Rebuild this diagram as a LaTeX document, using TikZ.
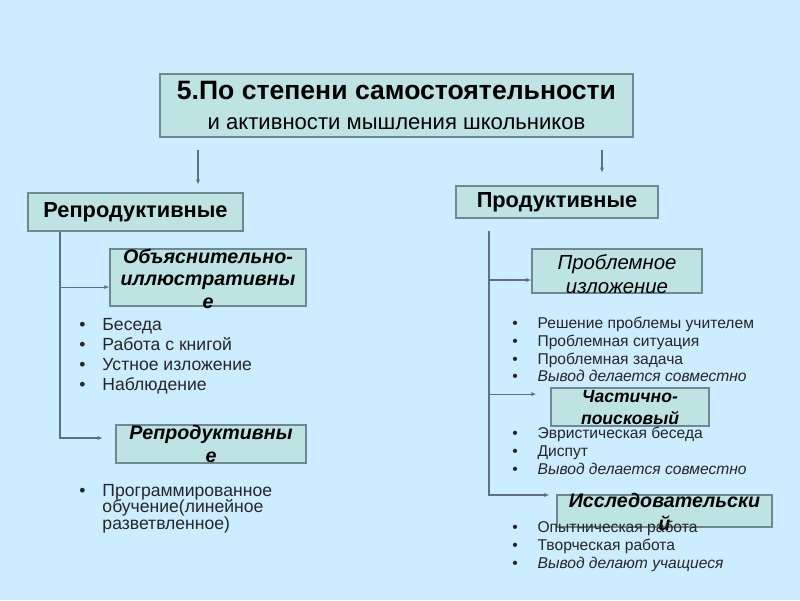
\documentclass[tikz,border=0pt]{standalone}
\usepackage{fontspec}
\setmainfont{Liberation Sans}
\usetikzlibrary{arrows.meta,positioning,calc}
\definecolor{slidebg}{HTML}{CCECFF}
\definecolor{boxfill}{HTML}{BEE3E3}
\definecolor{boxline}{HTML}{6E8890}
\definecolor{wire}{HTML}{5E707C}
\definecolor{itemgray}{HTML}{262626}
\newcommand{\bul}{\makebox[16.5pt][l]{\textbullet}}
\newcommand{\bulr}{\makebox[18pt][l]{\textbullet}}

\begin{document}
\begin{tikzpicture}[x=0.025cm,y=-0.025cm,
  box/.style={draw=boxline,fill=boxfill,line width=1pt,inner sep=0pt},
  head/.style={box,font=\fontsize{15.5}{18}\selectfont\bfseries},
  subtxt/.style={anchor=north,inner sep=0pt,align=center,font=\fontsize{14}{16}\selectfont\bfseries\itshape},
  items/.style={anchor=north west,inner sep=0pt,align=left,text=itemgray,font=\fontsize{12.5}{14.2}\selectfont},
  itemsr/.style={items,font=\fontsize{11.1}{12.6}\selectfont},
  wireln/.style={draw=wire,line width=0.8pt},
  arr/.style={wireln,-{Latex[length=3.5pt,width=3pt]}}]
\fill[slidebg] (0,0) rectangle (800,600);
% title
\node[box,minimum width=11.825cm,minimum height=1.575cm,align=center,font=\fontsize{15}{21}\selectfont] (title) at (396.5,105.5) {{\fontsize{18.9}{21}\selectfont\bfseries 5.По степени самостоятельности}\\{\fontsize{15.7}{18}\selectfont и активности мышления школьников}};
% two groups
\node[head,minimum width=5.375cm,minimum height=0.95cm] (repro) at (135.5,212) {Репродуктивные};
\node[head,minimum width=5.05cm,minimum height=0.8cm] (prod) at (557,202) {Продуктивные};
\coordinate (lcol) at (198,0);
\coordinate (rcol) at (602,0);
\draw[arr,shorten <=8.5pt,shorten >=5.5pt] (title.south -| lcol) -- (repro.north -| lcol);
\draw[arr,shorten <=8.5pt,shorten >=9pt] (title.south -| rcol) -- (prod.north -| rcol);
% reproductive methods
\node[box,minimum width=4.9cm,minimum height=1.425cm] (obj) at (208,277.5) {};
\node[subtxt] (objtxt) at ($(obj.north)+(0,0)$) {Объяснительно-\\иллюстративны\\е};
\node[items] (objlist) at (79,318.5) {\bul Беседа\\\bul Работа с книгой\\\bul Устное изложение\\\bul Наблюдение};
\node[box,minimum width=4.75cm,minimum height=0.95cm] (rep) at (211,444) {};
\node[subtxt] (reptxt) at ($(rep.north)+(0,1)$) {Репродуктивны\\е};
\node[items] (replist) at (79,484) {\bul Программированное\\[-2.4pt]\hspace*{16.5pt}обучение(линейное\\[-2.4pt]\hspace*{16.5pt}разветвленное)};
\coordinate (lspine) at (60,0);
\draw[arr] (repro.south -| lspine) |- ([yshift=-6.8pt]obj.west);
\draw[arr,shorten >=9pt] ([yshift=-6.8pt]obj.west -| lspine) |- ([yshift=4.3pt]rep.west);
% productive methods
\node[box,minimum width=4.25cm,minimum height=1.1cm] (prob) at (617,271) {};
\node[subtxt,font=\fontsize{14.5}{17}\selectfont\itshape] (probtxt) at ($(prob.north)+(0,6)$) {Проблемное\\изложение};
\node[itemsr] (problist) at (512,317) {\bulr Решение проблемы учителем\\\bulr Проблемная ситуация\\\bulr Проблемная задача\\\bulr \textit{Вывод делается совместно}};
\node[box,minimum width=3.95cm,minimum height=0.95cm] (part) at (630,407) {};
\node[subtxt,font=\fontsize{12.5}{15.6}\selectfont\bfseries\itshape] (parttxt) at ($(part.north)+(0,3)$) {Частично-\\поисковый};
\node[itemsr] (partlist) at (512,427) {\bulr Эвристическая беседа\\\bulr Диспут\\\bulr \textit{Вывод делается совместно}};
\node[box,minimum width=5.375cm,minimum height=0.8cm] (res) at (664.5,511) {};
\node[subtxt] (restxt) at ($(res.north)+(0,-1)$) {Исследовательски\\й};
\node[itemsr] (reslist) at (512,521) {\bulr Опытническая работа\\\bulr Творческая работа\\\bulr \textit{Вывод делают учащиеся}};
\coordinate (rspine) at (489,0);
\draw[wireln,shorten <=8.5pt] (prod.south -| rspine) -- ([yshift=-6.4pt]prob.west -| rspine);
\draw[arr] ([yshift=-6.4pt]prob.west -| rspine) -- ([yshift=-6.4pt]prob.west);
\draw[arr,shorten >=10pt] ([yshift=-6.4pt]prob.west -| rspine) |- ([yshift=9.2pt]part.west);
\draw[arr,shorten >=5pt] ([yshift=9.2pt]part.west -| rspine) |- ([yshift=11.4pt]res.west);
\end{tikzpicture}
\end{document}
